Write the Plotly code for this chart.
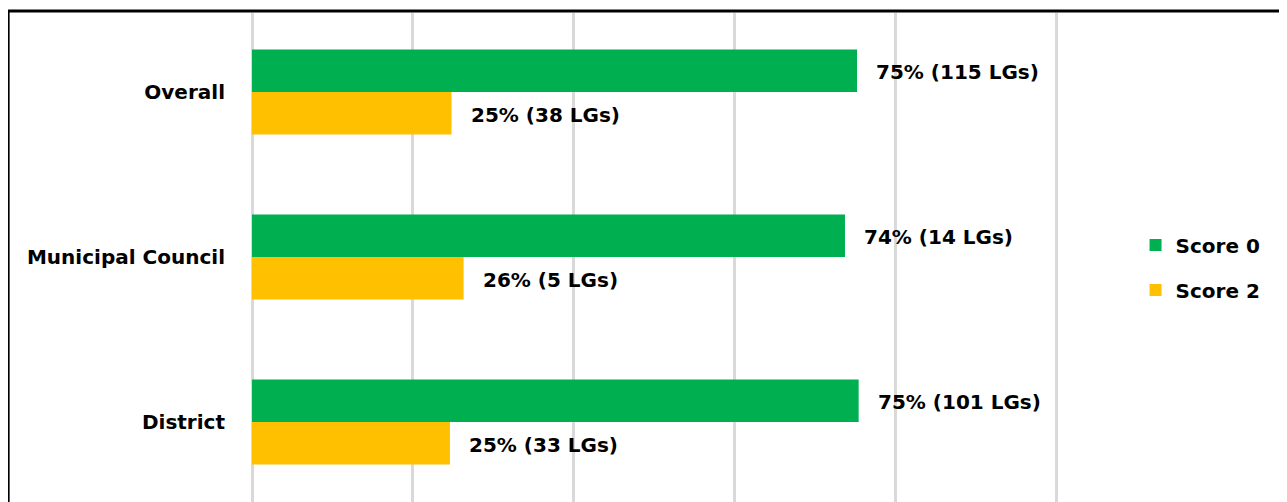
import plotly.graph_objects as go

# Data
categories = ["Overall", "Municipal Council", "District"]
score0_pct = [75.2, 73.7, 75.4]
score2_pct = [24.8, 26.3, 24.6]
score0_lgs = [115, 14, 101]
score2_lgs = [38, 5, 33]

green = "#00B050"
yellow = "#FFC000"
font_family = "DejaVu Sans, sans-serif"
fsize = 20

# page has an 8px body margin, so margins are trimmed by that amount
x_max = 100.3
left_px, plot_h = 244, 494
plot_w = 805 * x_max / 100

fig = go.Figure()

fig.add_trace(go.Bar(
    y=categories, x=score0_pct,
    orientation="h",
    name="<b>Score 0</b>",
    marker=dict(color=green, line=dict(width=0)),
    legendgroup="s0",
))
fig.add_trace(go.Bar(
    y=categories, x=score2_pct,
    orientation="h",
    name="<b>Score 2</b>",
    marker=dict(color=yellow, line=dict(width=0)),
    legendgroup="s2",
))

# Value labels next to each bar
annotations = []
for cat, v, n in zip(categories, score0_pct, score0_lgs):
    annotations.append(dict(
        x=v, y=cat, xref="x", yref="y",
        text=f"<b>{v:.0f}% ({n} LGs)</b>",
        showarrow=False, xanchor="left", yanchor="middle",
        xshift=17, yshift=20,
        font=dict(family=font_family, size=fsize, color="black"),
    ))
for cat, v, n in zip(categories, score2_pct, score2_lgs):
    annotations.append(dict(
        x=v, y=cat, xref="x", yref="y",
        text=f"<b>{v:.0f}% ({n} LGs)</b>",
        showarrow=False, xanchor="left", yanchor="middle",
        xshift=17, yshift=-23,
        font=dict(family=font_family, size=fsize, color="black"),
    ))

fig.update_layout(
    width=1287,
    height=502,
    margin=dict(l=left_px, r=1287 - left_px - plot_w, t=5, b=3),
    plot_bgcolor="white",
    paper_bgcolor="white",
    barmode="group",
    bargap=0.485,
    bargroupgap=0,
    annotations=annotations,
    font=dict(family=font_family, size=fsize, color="black"),
    legend=dict(
        x=(1136 - 252) / plot_w, y=0.485, xanchor="left", yanchor="middle",
        font=dict(size=fsize),
        tracegroupgap=16,
        itemwidth=30,
    ),
    shapes=[dict(
        type="rect", xref="paper", yref="paper",
        x0=(8 - 252) / plot_w, x1=(1320 - 252) / plot_w,
        y0=-0.2, y1=1.0 + 2 / plot_h,
        line=dict(color="black", width=3),
        fillcolor="rgba(0,0,0,0)",
        layer="above",
    )],
)

fig.update_xaxes(
    range=[0, x_max],
    tick0=0,
    dtick=20,
    showgrid=True,
    gridcolor="#d9d9d9",
    gridwidth=2.5,
    zeroline=True,
    zerolinecolor="#d9d9d9",
    zerolinewidth=2.5,
    showticklabels=False,
    showline=False,
)
fig.update_yaxes(
    categoryorder="array",
    categoryarray=categories,
    range=[2.515, -0.479],
    tickprefix="<b>",
    ticksuffix="</b>",
    ticks="outside",
    ticklen=22,
    tickcolor="rgba(0,0,0,0)",
    showline=False,
    tickfont=dict(size=fsize),
)

fig.write_html("out.html")
